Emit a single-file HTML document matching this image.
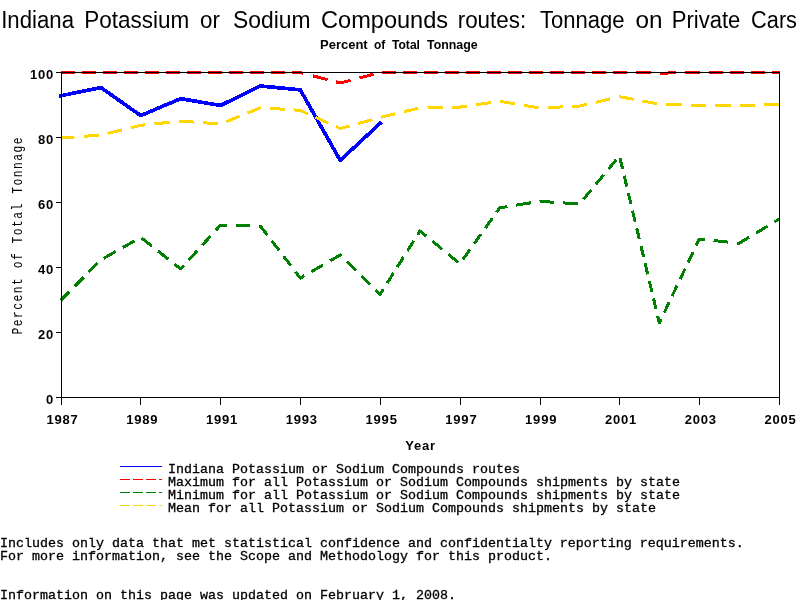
<!DOCTYPE html>
<html><head><meta charset="utf-8"><title>Indiana Potassium or Sodium Compounds routes: Tonnage on Private Cars</title>
<style>
html,body{margin:0;padding:0;background:#fff;width:800px;height:600px;overflow:hidden}
svg{display:block}
.title{font-family:'Liberation Sans', Arial, sans-serif;font-size:24.7px;fill:#000}
.sub{font-family:'Liberation Sans', Arial, sans-serif;font-weight:bold;font-size:13px;fill:#000}
.tick{font-family:'Liberation Sans', Arial, sans-serif;font-weight:bold;font-size:13px;fill:#000;letter-spacing:0.8px}
.mono{font-family:'Liberation Mono', 'DejaVu Sans Mono', monospace;font-size:13.333px;fill:#000;stroke:#000;stroke-width:0.3px}
.ylab{font-family:'Liberation Mono', 'DejaVu Sans Mono', monospace;font-size:14.5px;fill:#000;letter-spacing:1.915px}
</style></head><body>
<svg width="800" height="600" viewBox="0 0 800 600">
<rect width="800" height="600" fill="#fff"/>

<text class="title" transform="translate(1.20,28) scale(0.8987,1)">Indiana</text>
<text class="title" transform="translate(84.18,28) scale(0.9107,1)">Potassium</text>
<text class="title" transform="translate(200.10,28) scale(0.9048,1)">or</text>
<text class="title" transform="translate(233.07,28) scale(0.9259,1)">Sodium</text>
<text class="title" transform="translate(321.05,28) scale(0.9542,1)">Compounds</text>
<text class="title" transform="translate(457.68,28) scale(0.9085,1)">routes:</text>
<text class="title" transform="translate(540.00,28) scale(0.8936,1)">Tonnage</text>
<text class="title" transform="translate(635.42,28) scale(0.9840,1)">on</text>
<text class="title" transform="translate(671.72,28) scale(0.8919,1)">Private</text>
<text class="title" transform="translate(751.12,28) scale(0.8800,1)">Cars</text>
<text class="sub" transform="translate(320.00,49) scale(1.0000,1)">Percent</text>
<text class="sub" transform="translate(374.00,49) scale(0.9167,1)">of</text>
<text class="sub" transform="translate(392.00,49) scale(0.9310,1)">Total</text>
<text class="sub" transform="translate(427.00,49) scale(0.9528,1)">Tonnage</text>
<g fill="none" stroke-linejoin="round" stroke-linecap="butt" shape-rendering="crispEdges">
<path d="M61.00 95.73 L100.89 87.60 L140.78 115.55 L180.67 98.65 L220.56 105.48 L260.44 85.98 L300.33 89.88 L340.22 160.40 L380.11 123.35" stroke="#0000ff" stroke-width="3.7" stroke-linecap="square" stroke-linejoin="round"/>
<path d="M61.00 72.50 L74.50 72.50 M82.00 72.50 L95.50 72.50 M103.00 72.50 L116.50 72.50 M124.00 72.50 L137.50 72.50 M145.00 72.50 L158.50 72.50 M166.00 72.50 L179.50 72.50 M187.00 72.50 L200.50 72.50 M208.00 72.50 L221.50 72.50 M229.00 72.50 L242.50 72.50 M250.00 72.50 L263.50 72.50 M271.00 72.50 L284.50 72.50 M292.00 72.50 L300.30 72.50 L303.50 73.34 M313.00 75.84 L327.50 79.66 M336.00 81.89 L340.20 83.00 L350.60 80.26 M359.40 77.95 L373.50 74.24 M382.00 72.50 L396.00 72.50 M403.00 72.50 L417.00 72.50 M424.00 72.50 L438.00 72.50 M445.00 72.50 L459.00 72.50 M466.00 72.50 L480.00 72.50 M487.00 72.50 L501.00 72.50 M508.00 72.50 L522.00 72.50 M529.00 72.50 L543.00 72.50 M550.00 72.50 L564.00 72.50 M571.00 72.50 L585.00 72.50 M592.00 72.50 L606.00 72.50 M613.00 72.50 L627.00 72.50 M636.00 72.50 L651.00 72.50 M685.00 72.50 L700.00 72.50 M709.00 72.50 L723.00 72.50 M730.00 72.50 L744.00 72.50 M751.00 72.50 L765.00 72.50 M772.00 72.50 L779.50 72.50 M660.00 73.50 L668.00 73.50 M668.00 72.50 L676.00 72.50" stroke="#ff0000" stroke-width="3"/>
<path d="M61.00 300.15 L69.34 291.72 M74.69 286.32 L83.51 277.41 M88.85 272.02 L97.67 263.10 M103.74 258.25 L115.58 251.59 M122.75 247.56 L134.59 240.90 M141.62 238.09 L151.81 246.14 M157.98 251.02 L168.17 259.07 M174.33 263.95 L180.67 268.95 L183.82 265.48 M188.87 259.93 L197.21 250.76 M202.25 245.20 L210.59 236.03 M215.64 230.48 L220.56 225.07 L226.63 225.22 M235.58 225.44 L250.38 225.80 M259.33 226.02 L260.44 226.05 L267.27 234.95 M271.74 240.77 L279.12 250.39 M283.59 256.22 L290.97 265.84 M295.43 271.66 L300.33 278.05 L304.27 275.77 M311.37 271.67 L323.09 264.89 M330.18 260.78 L340.22 254.97 L341.51 256.24 M346.93 261.59 L355.89 270.42 M361.32 275.77 L370.28 284.61 M375.70 289.95 L380.11 294.30 L383.32 289.20 M387.15 283.12 L393.46 273.09 M397.29 267.01 L403.61 256.97 M407.43 250.89 L413.75 240.86 M417.57 234.78 L420.00 230.93 L426.14 235.98 M432.18 240.95 L442.15 249.15 M448.18 254.12 L458.15 262.32 M462.90 259.53 L469.88 249.74 M474.11 243.82 L481.09 234.03 M485.32 228.11 L492.31 218.32 M496.53 212.40 L499.78 207.85 L507.52 206.59 M516.28 205.16 L530.74 202.80 M539.50 201.38 L539.67 201.35 L554.24 202.30 M563.16 202.88 L577.91 203.84 M583.41 199.30 L591.23 189.87 M595.96 184.17 L603.78 174.74 M608.51 169.03 L616.33 159.61 M619.98 158.11 L622.59 169.03 M624.17 175.65 L626.78 186.58 M628.36 193.19 L630.97 204.12 M632.55 210.73 L635.16 221.66 M636.74 228.27 L639.35 239.20 M640.93 245.81 L643.54 256.74 M645.11 263.35 L647.72 274.28 M649.30 280.90 L651.91 291.82 M653.49 298.44 L656.10 309.36 M657.68 315.98 L659.33 322.90 L661.16 319.07 M664.17 312.74 L669.14 302.29 M672.15 295.96 L677.12 285.50 M680.13 279.17 L685.11 268.72 M688.12 262.39 L693.09 251.93 M696.10 245.61 L699.22 239.05 L704.69 239.63 M713.56 240.57 L728.21 242.12 M737.09 243.06 L739.11 243.28 L749.05 237.28 M756.04 233.07 L767.57 226.12 M774.55 221.91 L779.00 219.22" stroke="#008000" stroke-width="3"/>
<path d="M61.00 137.98 L74.52 136.98 M83.75 136.31 L98.87 135.20 M107.72 133.38 L122.04 129.88 M130.78 127.74 L140.78 125.30 L145.31 124.82 M154.49 123.85 L169.51 122.26 M178.68 121.29 L180.67 121.07 L193.78 122.04 M203.01 122.71 L218.12 123.82 M226.44 121.60 L239.51 116.28 M247.50 113.02 L260.44 107.75 L260.59 107.76 M269.83 108.36 L284.96 109.35 M294.20 109.95 L300.33 110.35 L307.87 113.79 M315.60 117.32 L328.26 123.09 M336.00 126.62 L340.22 128.55 L349.62 125.95 M358.22 123.56 L372.32 119.66 M380.94 117.30 L395.26 113.80 M404.01 111.66 L418.33 108.16 M427.51 107.63 L442.70 107.38 M451.98 107.23 L459.89 107.10 L467.02 106.05 M476.09 104.72 L490.96 102.54 M500.03 101.29 L514.80 103.76 M523.82 105.27 L538.59 107.73 M547.82 107.55 L562.99 106.87 M572.25 106.45 L579.56 106.12 L587.01 104.36 M595.78 102.29 L610.16 98.89 M618.93 96.82 L619.44 96.70 L633.59 99.35 M642.54 101.03 L657.21 103.78 M666.40 104.41 L681.58 104.90 M690.85 105.20 L699.22 105.48 L706.04 105.48 M715.32 105.48 L730.52 105.48 M739.80 105.46 L754.99 105.09 M764.27 104.86 L779.00 104.50" stroke="#ffd700" stroke-width="3"/>
</g>
<g stroke="#000" stroke-width="1" shape-rendering="crispEdges" fill="none">
<rect x="61.5" y="72.5" width="718" height="325"/>
<line x1="56" y1="397.5" x2="61" y2="397.5"/>
<line x1="56" y1="332.5" x2="61" y2="332.5"/>
<line x1="56" y1="267.5" x2="61" y2="267.5"/>
<line x1="56" y1="202.5" x2="61" y2="202.5"/>
<line x1="56" y1="137.5" x2="61" y2="137.5"/>
<line x1="56" y1="72.5" x2="61" y2="72.5"/>
<line x1="61.5" y1="398" x2="61.5" y2="405"/>
<line x1="140.5" y1="398" x2="140.5" y2="405"/>
<line x1="220.5" y1="398" x2="220.5" y2="405"/>
<line x1="300.5" y1="398" x2="300.5" y2="405"/>
<line x1="380.5" y1="398" x2="380.5" y2="405"/>
<line x1="460.5" y1="398" x2="460.5" y2="405"/>
<line x1="540.5" y1="398" x2="540.5" y2="405"/>
<line x1="619.5" y1="398" x2="619.5" y2="405"/>
<line x1="699.5" y1="398" x2="699.5" y2="405"/>
<line x1="779.5" y1="398" x2="779.5" y2="405"/>
</g>
<text class="tick" x="54" y="404" text-anchor="end">0</text>
<text class="tick" x="54" y="339" text-anchor="end">20</text>
<text class="tick" x="54" y="274" text-anchor="end">40</text>
<text class="tick" x="54" y="209" text-anchor="end">60</text>
<text class="tick" x="54" y="144" text-anchor="end">80</text>
<text class="tick" x="54" y="79" text-anchor="end">100</text>
<text class="tick" x="62.50" y="424" text-anchor="middle">1987</text>
<text class="tick" x="142.28" y="424" text-anchor="middle">1989</text>
<text class="tick" x="222.06" y="424" text-anchor="middle">1991</text>
<text class="tick" x="301.83" y="424" text-anchor="middle">1993</text>
<text class="tick" x="381.61" y="424" text-anchor="middle">1995</text>
<text class="tick" x="461.39" y="424" text-anchor="middle">1997</text>
<text class="tick" x="541.17" y="424" text-anchor="middle">1999</text>
<text class="tick" x="620.94" y="424" text-anchor="middle">2001</text>
<text class="tick" x="700.72" y="424" text-anchor="middle">2003</text>
<text class="tick" x="780.50" y="424" text-anchor="middle">2005</text>
<text class="tick" x="420.5" y="450" text-anchor="middle">Year</text>
<text class="ylab" transform="translate(22,235.25) rotate(-90) scale(0.78,1)" text-anchor="middle">Percent of Total Tonnage</text>
<line x1="120" y1="466.5" x2="162" y2="466.5" stroke="#0000ff" stroke-width="1" stroke-dasharray="none" shape-rendering="crispEdges"/>
<text class="mono" x="168" y="473">Indiana Potassium or Sodium Compounds routes</text>
<line x1="120" y1="479.5" x2="162" y2="479.5" stroke="#ff0000" stroke-width="1" stroke-dasharray="10 3" shape-rendering="crispEdges"/>
<text class="mono" x="168" y="486">Maximum for all Potassium or Sodium Compounds shipments by state</text>
<line x1="120" y1="492.5" x2="162" y2="492.5" stroke="#008000" stroke-width="1" stroke-dasharray="10 3" shape-rendering="crispEdges"/>
<text class="mono" x="168" y="499">Minimum for all Potassium or Sodium Compounds shipments by state</text>
<line x1="120" y1="505.5" x2="162" y2="505.5" stroke="#ffd700" stroke-width="1" stroke-dasharray="10 3" shape-rendering="crispEdges"/>
<text class="mono" x="168" y="512">Mean for all Potassium or Sodium Compounds shipments by state</text>
<text class="mono" x="0" y="547">Includes only data that met statistical confidence and confidentialty reporting requirements.</text>
<text class="mono" x="0" y="560">For more information, see the Scope and Methodology for this product.</text>
<text class="mono" x="0" y="599">Information on this page was updated on February 1, 2008.</text>
</svg>
</body></html>
